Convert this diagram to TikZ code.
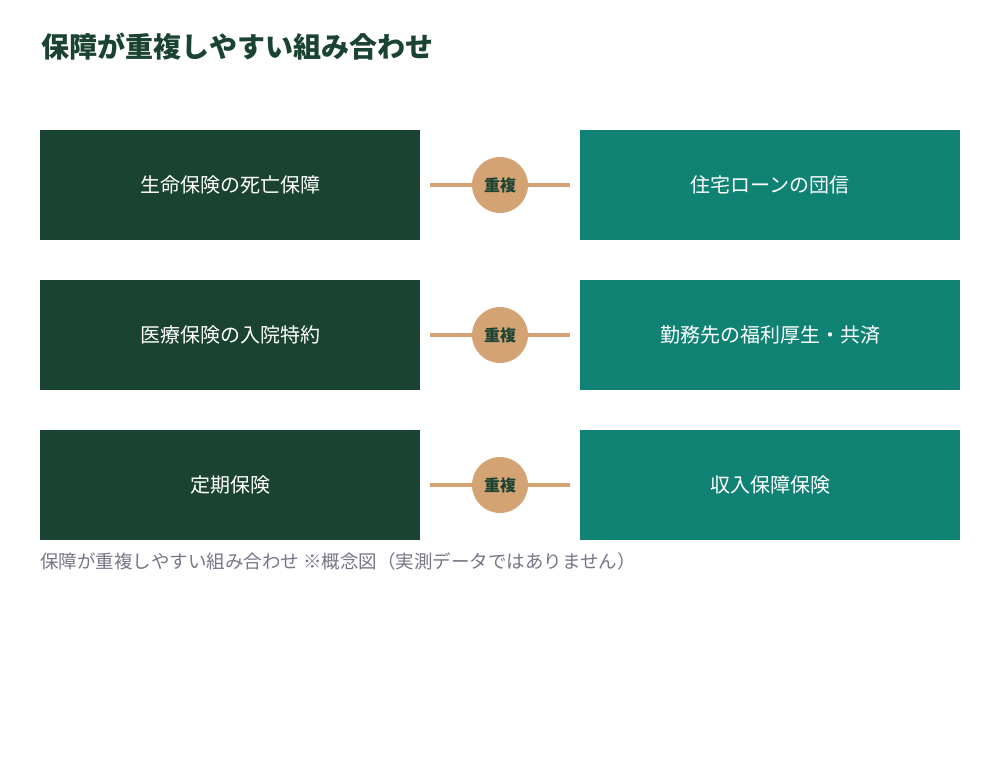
\documentclass[tikz,border=0pt]{standalone}
\usepackage{fontspec}
\setmainfont{Noto Sans CJK JP}
\definecolor{dg}{HTML}{1B4332}
\definecolor{tl}{HTML}{0F8274}
\definecolor{tan}{HTML}{D4A373}
\definecolor{cap}{HTML}{767687}
\begin{document}
\begin{tikzpicture}[x=1pt,y=-1pt,
 L/.style={fill=dg,draw=none,minimum width=380pt,minimum height=110pt,text=white,font=\fontsize{20}{24}\selectfont},
 R/.style={L,fill=tl},
 C/.style={circle,fill=tan,minimum size=56pt,inner sep=0pt,text=dg,font=\fontsize{16}{18}\selectfont\bfseries},
 ln/.style={tan,line width=3.5pt}]
\useasboundingbox[fill=white] (0,0) rectangle (1000,760);
\node[anchor=west,text=dg,font=\fontsize{28}{32}\selectfont\bfseries] (t) at (38,47) {保障が重複しやすい組み合わせ};
\foreach \i/\y/\a/\b in {1/185/生命保険の死亡保障/住宅ローンの団信,2/335/医療保険の入院特約/勤務先の福利厚生・共済,3/485/定期保険/収入保障保険}{
 \node[L] (l\i) at (230,\y) {\a};
 \node[R] (r\i) at (770,\y) {\b};
 \coordinate (a\i) at (430,\y);
 \coordinate (b\i) at (570,\y);
 \draw[ln] (a\i) -- (b\i);
 \node[C] (c\i) at (500,\y) {重複};
}
\node[anchor=west,text=cap,font=\fontsize{18.5}{22}\selectfont,inner sep=0pt] (cp) at (40,561) {保障が重複しやすい組み合わせ ※概念図（実測データではありません）};
\end{tikzpicture}
\end{document}
